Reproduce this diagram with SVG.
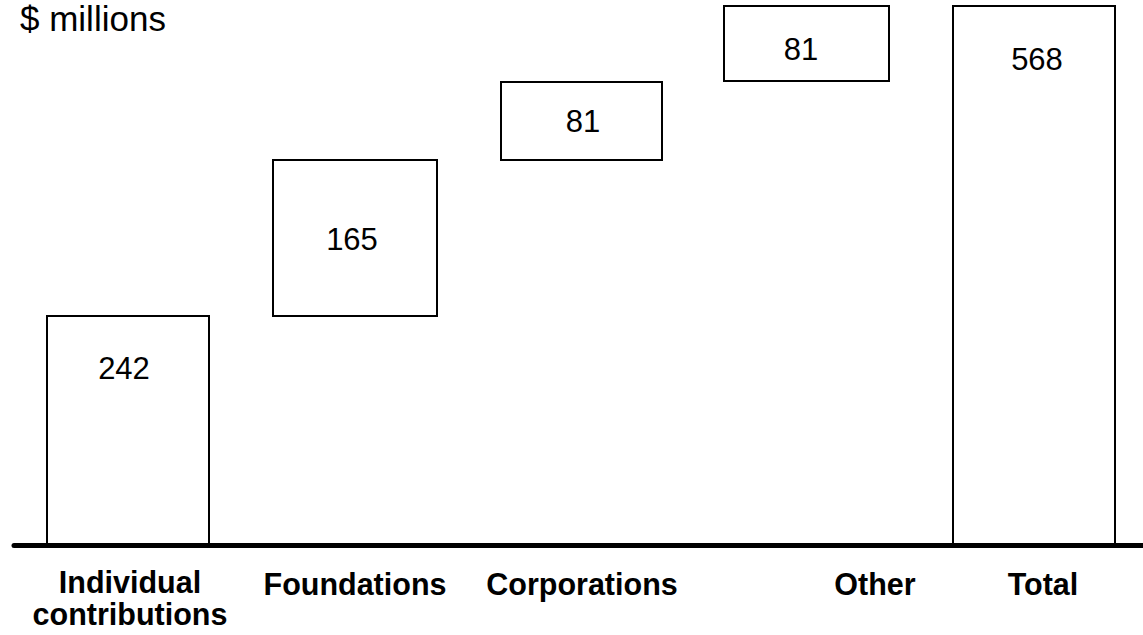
<svg xmlns="http://www.w3.org/2000/svg" width="1143" height="635" viewBox="0 0 1143 635">
<style>
.bar{fill:#fff;stroke:#000;stroke-width:2}
.val{font-family:"Liberation Sans",Arial,sans-serif;font-size:31px;fill:#000;text-anchor:middle}
.cat{font-family:"Liberation Sans",Arial,sans-serif;font-size:30.5px;font-weight:bold;fill:#000;text-anchor:middle}
.title{font-family:"Liberation Sans",Arial,sans-serif;font-size:35px;fill:#000}
</style>
<rect width="1143" height="635" fill="#fff"/>
<text class="title" x="20" y="31">$ millions</text>
<g id="individual">
<rect class="bar" x="47" y="316" width="162" height="229"/>
<text class="val" x="124" y="379">242</text>
<text class="cat" x="130" y="593">Individual</text>
<text class="cat" x="130" y="625">contributions</text>
</g>
<g id="foundations">
<rect class="bar" x="273" y="160" width="164" height="156"/>
<text class="val" x="352" y="250">165</text>
<text class="cat" x="355" y="595">Foundations</text>
</g>
<g id="corporations">
<rect class="bar" x="501" y="82" width="161" height="78"/>
<text class="val" x="583" y="132">81</text>
<text class="cat" x="582" y="595">Corporations</text>
</g>
<g id="other">
<rect class="bar" x="724" y="6" width="165" height="75"/>
<text class="val" x="801" y="60">81</text>
<text class="cat" x="875" y="595">Other</text>
</g>
<g id="total">
<rect class="bar" x="953" y="6" width="162" height="539"/>
<text class="val" x="1037" y="70">568</text>
<text class="cat" x="1043" y="595">Total</text>
</g>
<g id="connectors">
<line x1="14" y1="545.5" x2="1143" y2="545.5" stroke="#000" stroke-width="5" stroke-linecap="round"/>
</g>
</svg>
